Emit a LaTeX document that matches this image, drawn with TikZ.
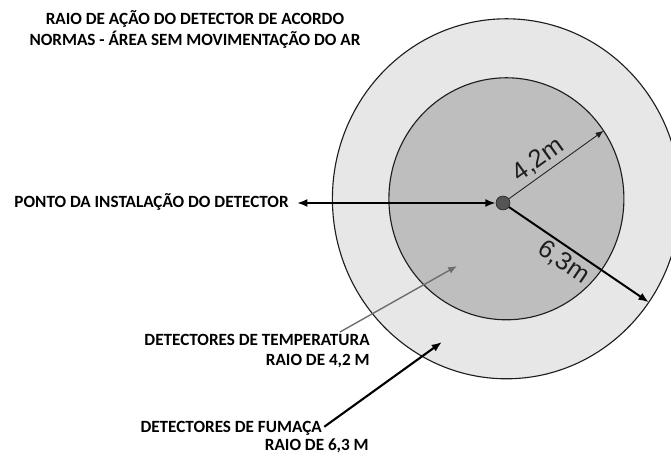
\documentclass[tikz,border=0pt]{standalone}
\usepackage{fontspec}
\setmainfont{Carlito}
\newfontfamily\numfont{Liberation Sans}
\definecolor{zonelight}{RGB}{231,231,231}
\definecolor{zonedark}{RGB}{190,190,190}
\definecolor{dotgray}{RGB}{85,85,85}
\definecolor{arrgray}{RGB}{110,110,110}
\definecolor{rimgray}{RGB}{30,30,30}
\usetikzlibrary{arrows.meta,positioning,shapes.geometric}

\begin{document}
\begin{tikzpicture}[>={Latex[length=2.6mm,width=2mm]},
  zone/.style={draw=rimgray,line width=0.8pt,ellipse,inner sep=0pt,outer sep=0pt},
  captext/.style={font=\bfseries\fontsize{12.2}{14.9}\selectfont,inner sep=0pt,text height=0.85em,text depth=0.2em},
  capblock/.style={font=\bfseries\fontsize{12.2}{14.9}\selectfont,inner sep=0pt},
  dimtext/.style={font=\numfont\fontsize{18}{20}\selectfont,text=rimgray,sloped,inner sep=2.5pt},
  arr/.style={->,line width=1.4pt}]
  \useasboundingbox (0,0) rectangle (16.775,11.35);
  \clip (0,0) rectangle (16.775,11.35);
  \node[zone,fill=zonelight,minimum width=8.7cm,minimum height=9cm] (outer) at (12.66,6.38) {};
  \node[zone,fill=zonedark,minimum width=5.875cm,minimum height=6.05cm] (inner) at (12.66,6.38) {};
  \node[circle,draw=rimgray,fill=dotgray,minimum size=0.35cm,inner sep=0pt] (det) at (12.575,6.275) {};
  \node[capblock,align=center,anchor=north] (title) at (4.875,11.1) {RAIO DE AÇÃO DO DETECTOR DE ACORDO\\NORMAS - ÁREA SEM MOVIMENTAÇÃO DO AR};
  \node[captext,anchor=east] (ponto) at (7.225,6.275) {PONTO DA INSTALAÇÃO DO DETECTOR};
  \node[capblock,align=right,anchor=north east] (temp) at (9.25,3.0125) {DETECTORES DE TEMPERATURA\\RAIO DE 4,2 M};
  \node[captext,anchor=east] (fumaca) at (8.05,0.64) {DETECTORES DE FUMAÇA};
  \node[captext,anchor=east] (fumraio) at (9.225,0.19) {RAIO DE 6,3 M};
  \coordinate (tstart) at (8.5,3.05);
  \coordinate (thead) at (11.425,4.7);
  \coordinate (fhead) at (11.05,2.8);
  \draw[<->,line width=1.4pt,shorten <=0.2cm] (ponto) -- (det);
  \draw[-{Latex[length=2mm,width=1.6mm]},line width=0.6pt,rimgray] (det) -- (inner.35) node[dimtext,pos=0.4,above] {4,2m};
  \draw[arr] (det) -- (outer.-36.5) node[dimtext,pos=0.45,below] {6,3m};
  \draw[-{Latex[length=2.2mm,width=1.8mm]},arrgray,line width=1pt] (tstart) -- (thead);
  \draw[arr,line width=1.5pt,shorten <=2pt] (fumaca.east) -- (fhead);
\end{tikzpicture}
\end{document}
